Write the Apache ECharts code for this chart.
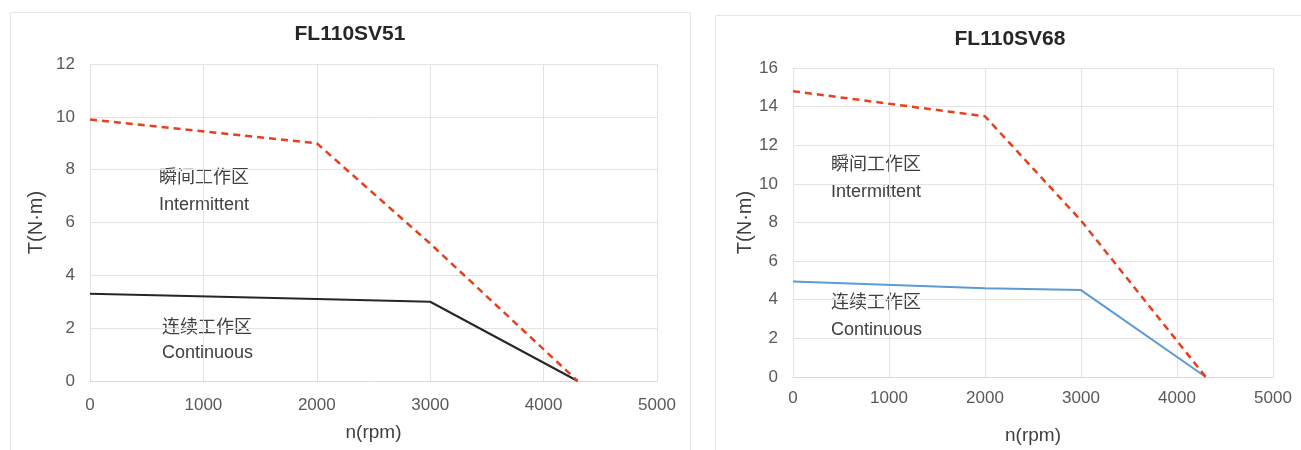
<!DOCTYPE html>
<html><head><meta charset="utf-8">
<script src="https://cdn.jsdelivr.net/npm/echarts@6/dist/echarts.min.js"></script>
<style>html,body{margin:0;padding:0;background:#fff}#c{width:1301px;height:450px}</style>
</head><body><div id="c"></div>
<script>
const titles = ['FL110SV51', 'FL110SV68'];
const speeds = [0, 2000, 3000, 4300];
const intermittent51 = [9.9, 9.0, 5.2, 0];
const continuous51 = [3.3, 3.1, 3.0, 0];
const intermittent68 = [14.8, 13.5, 8.1, 0];
const continuous68 = [4.95, 4.6, 4.5, 0];
const yMax = [12, 16];
const zoneLabels = ['瞬间工作区', 'Intermittent', '连续工作区', 'Continuous'];

const FONT = '"Liberation Sans", Arial, "Noto Sans CJK SC", sans-serif';
const pair = (ys) => speeds.map((x, i) => [x, ys[i]]);

const chart = echarts.init(document.getElementById('c'));
const axisLabel = { color: '#595959', fontSize: 17, fontFamily: FONT, formatter: v => String(v) };
const grid = [
  { left: 90, top: 64, width: 567, height: 317 },
  { left: 793, top: 68, width: 480, height: 311 }
];
const xAxis = [0, 1].map(i => ({
  type: 'value', gridIndex: i, min: 0, max: 5000, interval: 1000,
  name: 'n(rpm)', nameLocation: 'middle', nameGap: i === 0 ? 42 : 49,
  nameTextStyle: { color: '#404040', fontSize: 19, fontFamily: FONT },
  axisLine: { show: true, lineStyle: { color: '#d9d9d9' } },
  axisTick: { show: false },
  axisLabel: Object.assign({}, axisLabel, { margin: i === 0 ? 16 : 13 }),
  splitLine: { show: true, lineStyle: { color: '#e3e3e3' } }
}));
const yAxis = [0, 1].map(i => ({
  type: 'value', gridIndex: i, min: 0, max: yMax[i], interval: 2,
  name: 'T(N·m)', nameLocation: 'middle', nameGap: i === 0 ? 44 : 38,
  nameTextStyle: { color: '#404040', fontSize: 20, fontFamily: FONT },
  axisLine: { show: true, lineStyle: { color: '#e3e3e3' } },
  axisTick: { show: false },
  axisLabel: Object.assign({}, axisLabel, { margin: 15 }),
  splitLine: { show: true, lineStyle: { color: '#e3e3e3' } }
}));
const line = (data, idx, color, dashed, w) => ({
  type: 'line', xAxisIndex: idx, yAxisIndex: idx, data: pair(data),
  symbol: 'none', silent: true,
  lineStyle: { color: color, width: w, type: dashed ? [7, 5] : 'solid' }
});
const txt = (x, y, s) => ({
  type: 'text', x: x, y: y, silent: true,
  style: { text: s, fill: '#404040', font: 'normal 18px ' + FONT, verticalAlign: 'middle', align: 'left' }
});
chart.setOption({
  backgroundColor: '#fff',
  animation: false,
  title: [
    { text: titles[0], left: 345, top: 19, textAlign: 'center',
      textStyle: { fontSize: 21, fontWeight: 'bold', color: '#262626', fontFamily: FONT } },
    { text: titles[1], left: 1005, top: 24, textAlign: 'center',
      textStyle: { fontSize: 21, fontWeight: 'bold', color: '#262626', fontFamily: FONT } }
  ],
  grid: grid, xAxis: xAxis, yAxis: yAxis,
  series: [
    line(continuous51, 0, '#262626', false, 2),
    line(intermittent51, 0, '#e8401c', true, 2.5),
    line(continuous68, 1, '#5b9bd5', false, 2),
    line(intermittent68, 1, '#e8401c', true, 2.5)
  ],
  graphic: [
    { type: 'rect', shape: { x: 10.5, y: 12.5, width: 680, height: 460 },
      style: { fill: 'none', stroke: '#e6e6e6', lineWidth: 1 }, silent: true },
    { type: 'rect', shape: { x: 715.5, y: 15.5, width: 600, height: 460 },
      style: { fill: 'none', stroke: '#e6e6e6', lineWidth: 1 }, silent: true },
    txt(159, 178, zoneLabels[0]),
    txt(159, 205, zoneLabels[1]),
    txt(162, 328, zoneLabels[2]),
    txt(162, 353, zoneLabels[3]),
    txt(831, 165, zoneLabels[0]),
    txt(831, 192, zoneLabels[1]),
    txt(831, 303, zoneLabels[2]),
    txt(831, 330, zoneLabels[3])
  ]
});
</script></body></html>
